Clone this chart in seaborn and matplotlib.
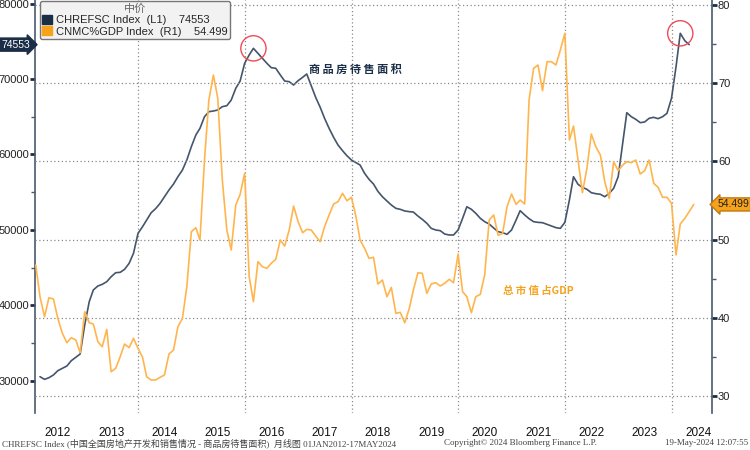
import pandas as pd
import matplotlib
matplotlib.use("Agg")
import matplotlib.pyplot as plt
import matplotlib.dates as mdates
from matplotlib.patches import Patch
import seaborn as sns

# CHREFSC Index (L1), monthly from Feb 2012 to Apr 2024
chrefsc = [
    30550, 30200, 30420, 30780, 31350, 31660, 31970, 32670, 33120, 33560, 37400,
    40490, 42040, 42570, 42790, 43140, 43800, 44330, 44380, 44780, 45570, 46900, 49550,
    50430, 51310, 52280, 52810, 53520, 54400, 55290, 56080, 57050, 57940, 59260, 61030,
    62580, 63460, 65000, 65665, 65756, 65890, 66330, 66460, 67210, 68760, 69730, 72080,
    73180, 74060, 73400, 72740, 72080, 71500, 71410, 70530, 69730, 69640, 69200, 69780,
    70220, 70660, 69070, 67570, 66250, 64790, 63460, 62270, 61250, 60500, 59830, 59260,
    58910, 58600, 57500, 56710, 56080, 55110, 54400, 53830, 53300, 52860, 52730, 52510,
    52420, 52370, 51840, 51400, 50880, 50210, 49990, 49900, 49460, 49330, 49330, 49990,
    51540, 53070, 52730, 52200, 51540, 51090, 50780, 50250, 49770, 49630, 49420, 49990,
    51310, 52550, 51980, 51490, 51090, 51000, 50960, 50740, 50520, 50300, 50210, 51000,
    53960, 57050, 56040, 55640, 55380, 54930, 54800, 54720, 54400, 54850, 55510, 57050,
    61480, 65530, 65000, 64660, 64210, 64300, 64790, 64920, 64740, 65000, 65450, 67440,
    71630, 76050, 75070, 74553,
]

# CNMC%GDP Index (R1), monthly from Jan 2012 to May 2024
cnmc_gdp = [
    46.75, 42.70, 40.14, 42.57, 42.40, 39.93, 38.02, 36.82, 37.46, 37.16, 35.54, 40.78,
    39.37, 39.21, 36.95, 36.30, 38.52, 33.11, 33.54, 35.03, 36.65, 36.18, 37.38, 36.10,
    34.95, 32.47, 32.05, 32.05, 32.39, 32.69, 35.37, 35.88, 38.86, 39.93, 43.98, 51.01,
    51.52, 49.95, 60.18, 67.85, 71.05, 68.07, 57.62, 51.23, 48.67, 54.42, 55.79, 58.48,
    45.26, 42.06, 47.18, 46.54, 46.33, 46.97, 47.48, 49.95, 49.18, 51.23, 54.29, 52.29,
    50.88, 51.31, 51.23, 50.46, 49.73, 51.65, 53.15, 54.55, 54.85, 55.92, 54.97, 55.41,
    52.93, 49.95, 48.89, 47.61, 47.74, 44.32, 44.83, 42.70, 43.89, 40.57, 40.70, 39.37,
    41.21, 43.56, 45.77, 45.69, 43.13, 44.32, 44.49, 44.07, 44.41, 44.92, 44.49, 48.16,
    43.34, 42.70, 40.65, 42.70, 43.00, 45.47, 52.51, 53.15, 50.56, 50.80, 54.21, 55.83,
    54.51, 55.06, 54.55, 67.85, 71.90, 72.33, 69.04, 72.75, 72.75, 72.33, 74.25, 76.38,
    62.74, 64.53, 60.18, 56.00, 59.12, 63.50, 61.88, 60.82, 57.41, 55.28, 59.96, 58.81,
    59.54, 59.96, 59.84, 60.18, 58.39, 58.81, 60.18, 57.20, 56.69, 55.41, 55.41, 54.64,
    48.03, 52.00, 52.72, 53.57, 54.499,
]

left_ticks = [30000, 40000, 50000, 60000, 70000, 80000]
right_ticks = [30, 40, 50, 60, 70, 80]

navy = "#1b2e48"
navy_line = "#44556c"
orange = "#f7a21b"
orange_line = "#ffb54d"
grid_c = "#8a8a8a"

df_l = pd.DataFrame({"date": pd.date_range("2012-02-01", periods=len(chrefsc), freq="ME"),
                     "value": chrefsc})
df_r = pd.DataFrame({"date": pd.date_range("2012-01-01", periods=len(cnmc_gdp), freq="ME"),
                     "value": cnmc_gdp})

sns.set_style("white")
plt.rcParams["font.family"] = ["Liberation Sans", "Noto Sans CJK SC"]

fig = plt.figure(figsize=(7.5, 4.5), dpi=100)
ax1 = fig.add_axes([0.0473, 0.0822, 0.9016, 0.9178])
ax2 = ax1.twinx()

sns.lineplot(data=df_l, x="date", y="value", ax=ax1, color=navy_line, lw=1.2, zorder=3)
sns.lineplot(data=df_r, x="date", y="value", ax=ax2, color=orange_line, lw=1.2, zorder=2)

ax1.set_xlim(pd.Timestamp("2012-01-29"), pd.Timestamp("2024-10-01"))
ax1.set_ylim(25741, 80464)
ax2.set_ylim(27.83, 80.64)
for a in (ax1, ax2):
    a.set_xlabel("")
    a.set_ylabel("")
    a.spines["top"].set_visible(False)
    a.spines["bottom"].set_visible(False)

ax1.spines["left"].set_color("#4a5a6e")
ax1.spines["left"].set_linewidth(1.2)
ax1.spines["right"].set_visible(False)
ax2.spines["left"].set_visible(False)
ax2.spines["right"].set_color("#4a5a6e")
ax2.spines["right"].set_linewidth(1.2)

# y ticks
ax1.set_yticks(left_ticks)
ax1.set_yticks([35000, 45000, 55000, 65000, 75000], minor=True)
ax1.set_yticklabels([str(v) for v in left_ticks])
ax1.tick_params(axis="y", which="major", direction="out", length=3.5, width=2,
                color=navy, labelsize=8, labelcolor="#222222", pad=1, left=True)
ax1.tick_params(axis="y", which="minor", direction="out", length=3, width=1,
                color="#4a5a6e", left=True)
ax2.set_yticks(right_ticks)
ax2.set_yticks([35, 45, 55, 65, 75], minor=True)
ax2.set_yticklabels([str(v) for v in right_ticks])
ax2.tick_params(axis="y", which="major", direction="out", length=3.5, width=2,
                color=navy, labelsize=8, labelcolor="#222222", pad=1, right=True)
ax2.tick_params(axis="y", which="minor", direction="out", length=3, width=1,
                color="#4a5a6e", right=True)

# x axis: grid at even years, labels mid-year
ax1.xaxis.set_major_locator(mdates.YearLocator(2))
ax1.xaxis.set_major_formatter(plt.NullFormatter())
ax1.xaxis.set_minor_locator(mdates.MonthLocator(bymonth=7, bymonthday=1))
ax1.xaxis.set_minor_formatter(mdates.DateFormatter("%Y"))
ax1.tick_params(axis="x", which="both", length=0, labelsize=8.5, labelcolor="#111111", pad=10)

ax1.grid(axis="x", which="major", color=grid_c, ls=(0, (1, 2)), lw=0.9)
ax1.grid(axis="y", visible=False)
ax2.grid(axis="y", which="major", color=grid_c, ls=(0, (1, 2)), lw=0.9)
ax2.grid(axis="x", visible=False)

# red circles at the two peaks
pk1 = df_l.loc[df_l["date"] < "2017-01-01", "value"].idxmax()
pk2 = df_l["value"].idxmax()
ax1.scatter(df_l["date"][[pk1, pk2]], df_l["value"][[pk1, pk2]], s=330,
            facecolors="none", edgecolors="#ee4b55", linewidths=1.0, zorder=5)

# annotations
ax1.text(0.473, 0.833, "商 品 房 待 售 面 积", transform=ax1.transAxes, ha="center",
         va="center", fontsize=8, fontweight="bold", color=navy,
         family=["Noto Sans CJK SC", "DejaVu Sans"])
ax1.text(0.743, 0.295, "总 市 值 占GDP", transform=ax1.transAxes, ha="center",
         va="center", fontsize=7.5, fontweight="bold", color=orange,
         family=["Noto Sans CJK SC", "DejaVu Sans"])

# last value tags
ax1.text(-0.008, chrefsc[-1], str(chrefsc[-1]), transform=ax1.get_yaxis_transform(),
         ha="right", va="center", fontsize=7.5, color="white",
         bbox=dict(boxstyle="rarrow,pad=0.15", fc=navy, ec=navy))
ax2.text(1.008, cnmc_gdp[-1], "%.3f" % cnmc_gdp[-1], transform=ax2.get_yaxis_transform(),
         ha="left", va="center", fontsize=7.5, color="#222222",
         bbox=dict(boxstyle="larrow,pad=0.15", fc=orange, ec="#c07a10"))

# legend
handles = [Patch(facecolor=navy, edgecolor=navy), Patch(facecolor=orange, edgecolor=orange)]
labels = ["CHREFSC Index  (L1)    74553", "CNMC%GDP Index  (R1)    54.499"]
leg = ax2.legend(handles, labels, title="中价", loc="upper left",
                 bbox_to_anchor=(0.003, 1.003), fontsize=8, title_fontsize=8,
                 handlelength=0.9, handleheight=0.9, handletextpad=0.4,
                 borderpad=0.2, labelspacing=0.1, borderaxespad=0.2,
                 frameon=True, fancybox=True)
leg.get_title().set_color("#666666")
leg.get_title().set_family(["Noto Sans CJK SC", "DejaVu Sans"])
leg.get_frame().set_facecolor("#f2f2f2")
leg.get_frame().set_edgecolor("#777777")
leg.get_frame().set_alpha(1)
leg.set_zorder(10)

# footer
foot = dict(fontsize=6.5, color="#444444", va="center",
            family=["Liberation Serif", "Noto Sans CJK SC"])
fig.text(0.002, 0.0156, "CHREFSC Index (中国全国房地产开发和销售情况 - 商品房待售面积)  月线图 01JAN2012-17MAY2024",
         ha="left", **foot)
fig.text(0.592, 0.0156, "Copyright© 2024 Bloomberg Finance L.P.", ha="left", **foot)
fig.text(0.998, 0.0156, "19-May-2024 12:07:55", ha="right", **foot)

fig.savefig("out.png", dpi=100)
